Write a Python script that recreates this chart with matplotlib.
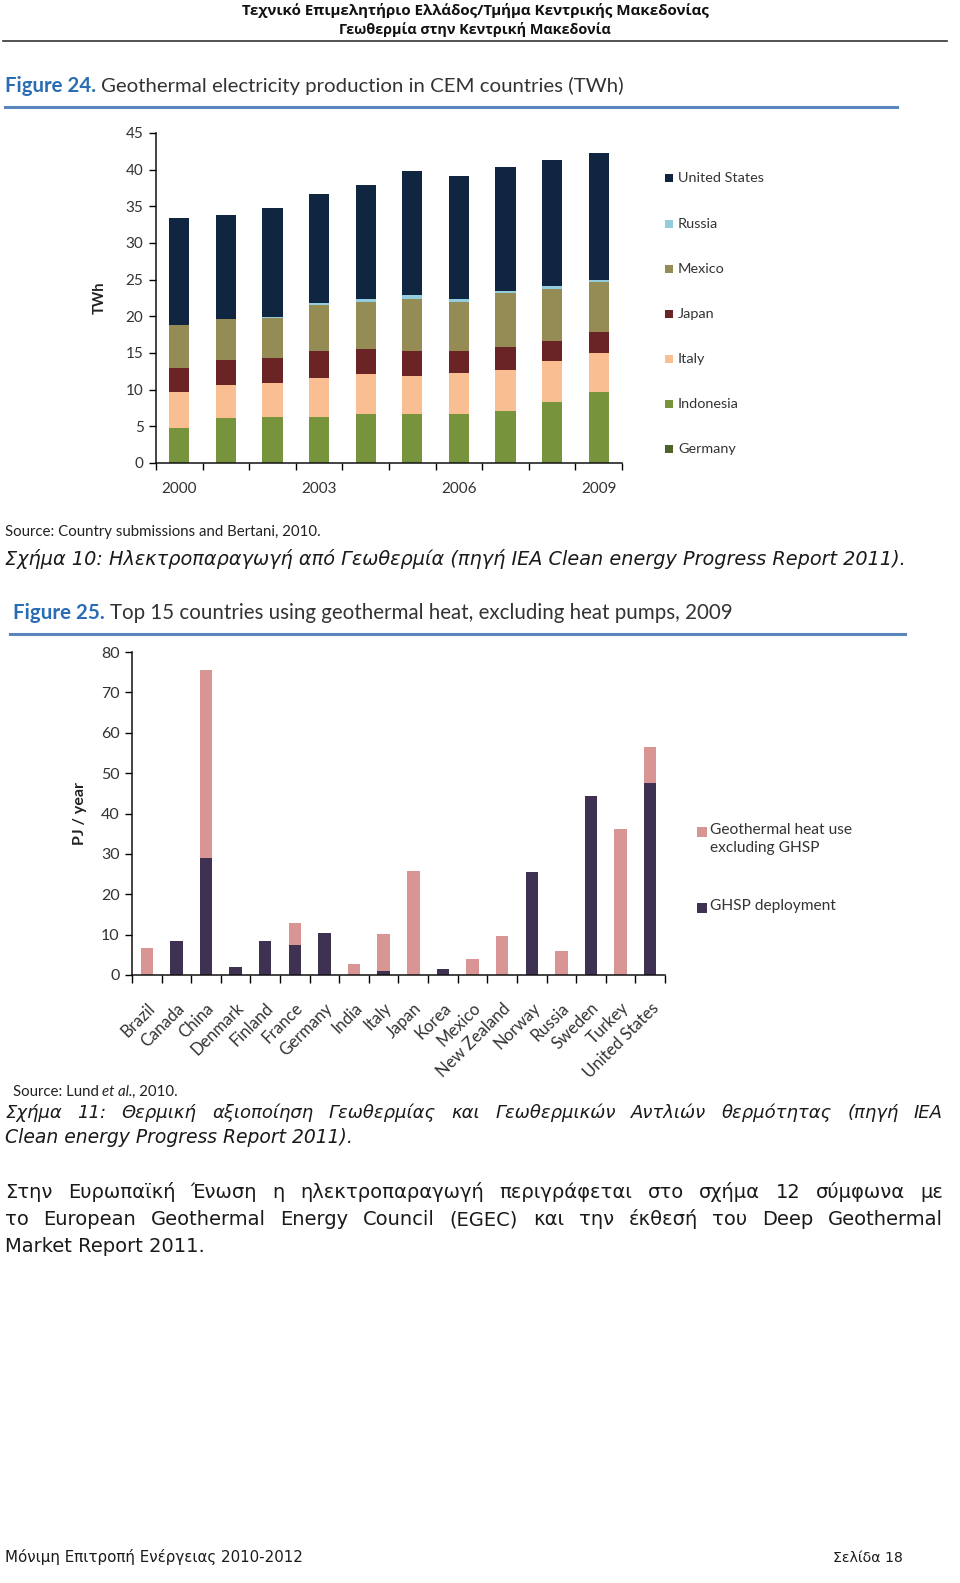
import matplotlib
matplotlib.use('Agg')
import matplotlib.pyplot as plt
from matplotlib.patches import Rectangle
from matplotlib.lines import Line2D

# ---------------- data ----------------
years = [2000, 2001, 2002, 2003, 2004, 2005, 2006, 2007, 2008, 2009]
year_labels = ['2000', '', '', '2003', '', '', '2006', '', '', '2009']
germany = [0.02, 0.02, 0.02, 0.02, 0.02, 0.02, 0.02, 0.02, 0.02, 0.02]
indonesia = [4.8, 6.1, 6.3, 6.3, 6.6, 6.6, 6.6, 7.1, 8.3, 9.6]
italy = [4.8, 4.5, 4.6, 5.3, 5.5, 5.2, 5.7, 5.5, 5.6, 5.4]
japan = [3.3, 3.4, 3.4, 3.6, 3.4, 3.4, 3.0, 3.15, 2.7, 2.9]
mexico = [5.9, 5.6, 5.4, 6.3, 6.5, 7.2, 6.7, 7.35, 7.1, 6.7]
russia = [0.05, 0.08, 0.2, 0.3, 0.4, 0.5, 0.4, 0.4, 0.4, 0.4]
united_states = [14.6, 14.1, 14.9, 14.9, 15.5, 16.9, 16.7, 16.8, 17.2, 17.3]
elec_series = ['Germany', 'Indonesia', 'Italy', 'Japan', 'Mexico', 'Russia', 'United States']
elec_colors = ['#4f6228', '#77933c', '#f9be92', '#6b2426', '#958b54', '#93cddd', '#10253f']

countries = ['Brazil', 'Canada', 'China', 'Denmark', 'Finland', 'France', 'Germany',
             'India', 'Italy', 'Japan', 'Korea', 'Mexico', 'New Zealand', 'Norway',
             'Russia', 'Sweden', 'Turkey', 'United States']
ghsp = [0, 8.3, 28.9, 1.9, 8.3, 7.4, 10.3, 0, 1.1, 0, 1.5, 0, 0, 25.4, 0, 44.4, 0, 47.6]
heat_excl = [6.7, 0, 46.6, 0, 0, 5.4, 0, 2.7, 9.0, 25.8, 0, 3.9, 9.7, 0, 6.0, 0, 36.2, 8.9]
heat_labels = ['Geothermal heat use\nexcluding GHSP', 'GHSP deployment']
heat_colors = ['#d99594', '#3f3151']

W, H = 960, 1583
fig = plt.figure(figsize=(W / 100, H / 100), dpi=100)
fig.patch.set_facecolor('white')


def fx(x):
    return x / W


def fy(y):
    return 1 - y / H


def axrect(l, r, t, b):
    return [fx(l), fy(b), (r - l) / W, (b - t) / H]


renderer = fig.canvas.get_renderer()

HEAD = ['Open Sans', 'DejaVu Sans']
BODY = ['DejaVu Sans']
CAL = ['Lato', 'Noto Sans', 'DejaVu Sans']
TXT = '#1a1a1a'


def hline(x0, x1, y, color, lw):
    fig.add_artist(Line2D([fx(x0), fx(x1)], [fy(y), fy(y)], color=color, lw=lw,
                          transform=fig.transFigure))


def width_px(t):
    return t.get_window_extent(renderer=renderer).width


def fit_text(x, y, s, target, ha='left', maxsize=None, **kw):
    t = fig.text(fx(x), fy(y), s, va='baseline', ha=ha, fontsize=10, **kw)
    size = 10 * target / width_px(t)
    if maxsize is not None:
        size = min(size, maxsize)
    t.set_fontsize(size)
    return t


def justify(line, x0, x1, y, **kw):
    words = line.split()
    objs = [fig.text(fx(x0), fy(y), w, va='baseline', ha='left', **kw) for w in words]
    widths = [width_px(o) for o in objs]
    gap = (x1 - x0 - sum(widths)) / max(len(words) - 1, 1)
    xx = x0
    for o, w in zip(objs, widths):
        o.set_x(fx(xx))
        xx += w + gap


def two_part(x, y, a, b, size, ca, cb, fam, wa='bold', gap=5):
    t = fig.text(fx(x), fy(y), a, va='baseline', ha='left', fontsize=size, color=ca,
                 family=fam, fontweight=wa)
    w = width_px(t)
    fig.text(fx(x + w + gap), fy(y), b, va='baseline', ha='left', fontsize=size, color=cb,
             family=fam)


# ---------------- header ----------------
fit_text(475, 15, 'Τεχνικό Επιμελητήριο Ελλάδος/Τμήμα Κεντρικής Μακεδονίας', 469, ha='center',
         fontweight='bold', family=HEAD, color='#111111')
fit_text(475, 34, 'Γεωθερμία στην Κεντρική Μακεδονία', 272, ha='center',
         fontweight='bold', family=HEAD, color='#111111')
hline(3, 947, 41, '#333333', 1.2)

BLUE = '#2a6db3'
two_part(5, 92, 'Figure 24.', 'Geothermal electricity production in CEM countries (TWh)',
         14.7, BLUE, '#333333', CAL)
hline(5, 897, 107, '#5b86bd', 2.2)

# ---------------- top chart ----------------
ax1 = fig.add_axes(axrect(156, 622, 133, 463))
x = list(range(len(years)))
stack = [germany, indonesia, italy, japan, mexico, russia, united_states]
bottom = [0.0] * len(years)
for name, vals, col in zip(elec_series, stack, elec_colors):
    ax1.bar(x, vals, width=0.43, bottom=bottom, color=col, label=name, linewidth=0)
    bottom = [b + v for b, v in zip(bottom, vals)]
ax1.set_xlim(-0.5, len(years) - 0.5)
ax1.set_ylim(0, 45)
ax1.set_yticks(range(0, 46, 5))
ax1.set_xticks(x)
ax1.set_xticklabels(year_labels)
ax1.set_xticks([i - 0.5 for i in range(len(years) + 1)], minor=True)
ax1.tick_params(axis='x', which='major', length=0, pad=14, labelsize=11, labelcolor='#333333')
ax1.tick_params(axis='x', which='minor', length=5, direction='out', width=1)
ax1.tick_params(axis='y', length=5, direction='out', width=1, labelsize=11, labelcolor='#333333', pad=4)
for lab in ax1.get_xticklabels() + ax1.get_yticklabels():
    lab.set_family(CAL)
for s in ['top', 'right']:
    ax1.spines[s].set_visible(False)
for s in ['left', 'bottom']:
    ax1.spines[s].set_linewidth(1.1)
    ax1.spines[s].set_color('#111111')
ax1.set_ylabel('TWh', fontsize=10.5, fontweight='bold', family=CAL, color='#222222', labelpad=14)

leg_y = [178, 224, 269, 314, 359, 404, 449]
for name, col, ly in zip(elec_series[::-1], elec_colors[::-1], leg_y):
    fig.add_artist(Rectangle((fx(665), fy(ly + 4)), 8 / W, 8 / H, color=col,
                             transform=fig.transFigure, lw=0))
    fig.text(fx(678), fy(ly), name, va='center', ha='left', fontsize=10.4, family=CAL, color='#333333')

fig.text(fx(5), fy(536), 'Source: Country submissions and Bertani, 2010.', va='baseline',
         fontsize=10.8, family=CAL, color='#222222')
fit_text(5, 565, 'Σχήμα 10: Ηλεκτροπαραγωγή από Γεωθερμία (πηγή IEA Clean energy Progress Report 2011).',
         898, maxsize=14, family=BODY, style='italic', color=TXT)

two_part(13, 619, 'Figure 25.', 'Top 15 countries using geothermal heat, excluding heat pumps, 2009',
         14.8, BLUE, '#333333', CAL)
hline(10, 905, 634, '#5b86bd', 2.2)

# ---------------- bottom chart ----------------
ax2 = fig.add_axes(axrect(132, 665, 652, 975))
xc = list(range(len(countries)))
ax2.bar(xc, ghsp, width=0.42, color=heat_colors[1], linewidth=0, label=heat_labels[1])
ax2.bar(xc, heat_excl, width=0.42, bottom=ghsp, color=heat_colors[0], linewidth=0, label=heat_labels[0])
ax2.set_xlim(-0.5, len(countries) - 0.5)
ax2.set_ylim(0, 80)
ax2.set_yticks(range(0, 81, 10))
ax2.set_xticks(xc)
ax2.set_xticklabels(countries, rotation=45, ha='right', rotation_mode='anchor')
ax2.set_xticks([i - 0.5 for i in range(len(countries) + 1)], minor=True)
ax2.tick_params(axis='x', which='major', length=0, pad=18, labelsize=12, labelcolor='#333333')
ax2.tick_params(axis='x', which='minor', length=6, direction='out', width=1)
ax2.tick_params(axis='y', length=5, direction='out', width=1, labelsize=11.5, labelcolor='#333333', pad=4)
for lab in ax2.get_xticklabels() + ax2.get_yticklabels():
    lab.set_family(CAL)
for s in ['top', 'right']:
    ax2.spines[s].set_visible(False)
for s in ['left', 'bottom']:
    ax2.spines[s].set_linewidth(1.1)
    ax2.spines[s].set_color('#111111')
ax2.set_ylabel('PJ / year', fontsize=11.5, fontweight='bold', family=CAL, color='#222222', labelpad=10)

for lab, col, ly in [(heat_labels[0], heat_colors[0], 832), (heat_labels[1], heat_colors[1], 908)]:
    fig.add_artist(Rectangle((fx(697), fy(ly + 5)), 10 / W, 10 / H, color=col,
                             transform=fig.transFigure, lw=0))
    fig.text(fx(710), fy(ly - 9), lab, va='top', ha='left', fontsize=11.2, family=CAL,
             color='#333333', linespacing=1.4)

t = fig.text(fx(13), fy(1096), 'Source: Lund', va='baseline', fontsize=10.8, family=CAL, color='#222222')
w1 = width_px(t)
t2 = fig.text(fx(13 + w1 + 3), fy(1096), 'et al.', va='baseline', fontsize=10.8, family=CAL,
              style='italic', color='#222222')
w2 = width_px(t2)
fig.text(fx(13 + w1 + 3 + w2), fy(1096), ', 2010.', va='baseline', fontsize=10.8, family=CAL, color='#222222')

# ---------------- text body ----------------
justify('Σχήμα 11: Θερμική αξιοποίηση Γεωθερμίας και Γεωθερμικών Αντλιών θερμότητας (πηγή IEA',
        5, 943, 1118, fontsize=13, family=BODY, style='italic', color=TXT)
fig.text(fx(5), fy(1143), 'Clean energy Progress Report 2011).', va='baseline', fontsize=13.5,
         family=BODY, style='italic', color=TXT)
justify('Στην Ευρωπαϊκή Ένωση η ηλεκτροπαραγωγή περιγράφεται στο σχήμα 12 σύμφωνα με',
        5, 943, 1198, fontsize=14, family=BODY, color=TXT)
justify('το European Geothermal Energy Council (EGEC) και την έκθεσή του Deep Geothermal',
        5, 943, 1225, fontsize=14, family=BODY, color=TXT)
fig.text(fx(5), fy(1252), 'Market Report 2011.', va='baseline', fontsize=14, family=BODY, color=TXT)

fit_text(5, 1562, 'Μόνιμη Επιτροπή Ενέργειας 2010-2012', 297, family=BODY, color=TXT)
fit_text(903, 1562, 'Σελίδα 18', 70, ha='right', family=BODY, color=TXT)

fig.savefig('out.png', dpi=100, facecolor='white')
